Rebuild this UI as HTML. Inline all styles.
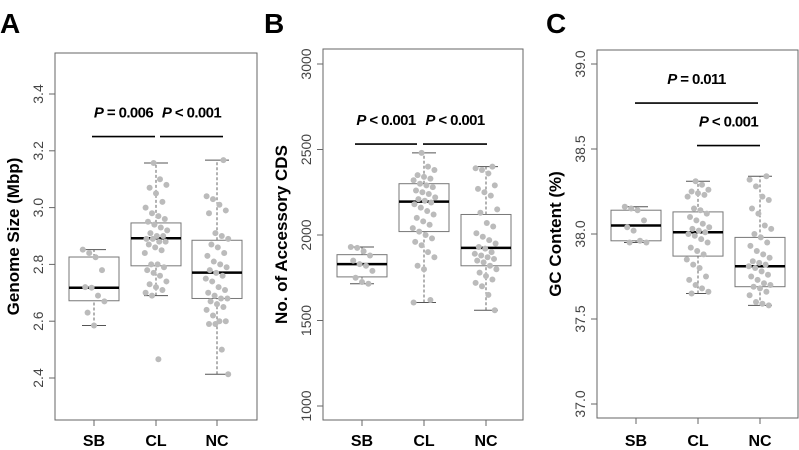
<!DOCTYPE html>
<html><head><meta charset="utf-8">
<style>
html,body{margin:0;padding:0;background:#fff;}
svg{display:block;font-family:"Liberation Sans",Arial,sans-serif;}
</style></head>
<body>
<svg id="chart" width="799" height="450" viewBox="0 0 799 450"></svg>
<script>
const categories = ["SB","CL","NC"];
// Panel A: Genome size (Mbp)
const aTicks = [2.4,2.6,2.8,3.0,3.2,3.4];
const aStats = [[2.585,2.672,2.718,2.826,2.852],[2.69,2.795,2.892,2.946,3.157],[2.413,2.68,2.771,2.885,3.167]];
const aSB = [2.852,2.84,2.825,2.78,2.72,2.718,2.69,2.67,2.63,2.585];
const aCL = [3.157,3.1,3.08,3.07,3.05,3.02,3.0,2.98,2.97,2.96,2.95,2.94,2.93,2.92,2.91,2.9,2.9,2.89,2.89,2.88,2.88,2.87,2.86,2.85,2.84,2.8,2.8,2.79,2.78,2.77,2.76,2.74,2.73,2.72,2.71,2.7,2.69,2.466];
const aNC = [3.167,3.04,3.03,3.01,2.99,2.98,2.91,2.9,2.89,2.87,2.86,2.84,2.83,2.81,2.8,2.79,2.78,2.77,2.76,2.75,2.74,2.72,2.71,2.7,2.69,2.68,2.68,2.67,2.66,2.65,2.64,2.62,2.6,2.6,2.59,2.59,2.5,2.413];
// Panel B: No. of accessory CDS
const bTicks = [1000,1500,2000,2500,3000];
const bStats = [[1715,1755,1830,1885,1930],[1605,2020,2195,2300,2480],[1560,1820,1925,2120,2400]];
const bSB = [1930,1925,1905,1880,1850,1830,1820,1790,1750,1725,1715];
const bCL = [2480,2400,2380,2350,2340,2330,2320,2300,2290,2280,2260,2250,2240,2220,2210,2200,2190,2180,2160,2140,2120,2100,2080,2060,2040,2020,2000,1980,1960,1940,1900,1870,1820,1800,1620,1605];
const bNC = [2400,2390,2380,2360,2290,2270,2250,2230,2150,2130,2070,2050,2010,1990,1970,1950,1930,1920,1900,1890,1880,1870,1860,1850,1840,1820,1800,1780,1760,1740,1720,1700,1650,1560];
// Panel C: GC content (%)
const cTicks = [37.0,37.5,38.0,38.5,39.0];
const cStats = [[37.95,37.96,38.05,38.14,38.16],[37.65,37.87,38.01,38.13,38.31],[37.58,37.69,37.81,37.98,38.34]];
const cSB = [38.16,38.15,38.14,38.08,38.04,38.02,37.96,37.95,37.95];
const cCL = [38.31,38.29,38.26,38.25,38.24,38.23,38.22,38.15,38.14,38.12,38.1,38.08,38.06,38.04,38.03,38.02,38.01,38.0,37.99,37.97,37.95,37.92,37.9,37.88,37.85,37.82,37.8,37.75,37.73,37.7,37.68,37.66,37.65];
const cNC = [38.34,38.32,38.28,38.22,38.2,38.15,38.12,38.05,38.03,38.0,37.98,37.95,37.93,37.9,37.88,37.86,37.84,37.83,37.82,37.81,37.8,37.78,37.76,37.75,37.73,37.71,37.7,37.69,37.68,37.66,37.64,37.6,37.59,37.58];

const NS="http://www.w3.org/2000/svg";
const svg=document.getElementById('chart');
function mk(tag,attrs,parent){const e=document.createElementNS(NS,tag);for(const k in attrs)e.setAttribute(k,attrs[k]);(parent||svg).appendChild(e);return e;}

function panel(p){
  const g=mk('g',{});
  
  
  const y=v=>p.y0+(v-p.v0)*(p.y1-p.y0)/(p.v1-p.v0);
  const x=i=>p.xc[i];
  const L=mk('text',{x:p.lx,y:33,'font-size':28,'font-weight':'bold',fill:'#000'},g);L.textContent=p.letter;
  
  
  const fr=mk('rect',{x:p.bx0,y:p.by0,width:p.bx1-p.bx0,height:p.by1-p.by0,fill:'none',stroke:'#666','stroke-width':1},g);
  
  
  p.ticks.forEach(t=>{
    const ty=y(t);
    mk('line',{x1:p.bx0-6,x2:p.bx0,y1:ty,y2:ty,stroke:'#666'},g);
    const tx=mk('text',{x:p.bx0-12,y:ty,'font-size':14,fill:'#444','text-anchor':'middle',transform:`rotate(-90 ${p.bx0-12} ${ty})`},g);
    tx.textContent=p.fmt(t);
    
    
  });
  const yt=mk('text',{x:0,y:0,'font-size':17,'font-weight':'bold',fill:'#000','text-anchor':'middle',transform:`translate(${p.bx0-36} ${(p.by0+p.by1)/2}) rotate(-90)`},g);
  yt.textContent=p.title;
  
  
  categories.forEach((c,i)=>{
    mk('line',{x1:x(i),x2:x(i),y1:p.by1,y2:p.by1+6,stroke:'#666'},g);
    const ct=mk('text',{x:x(i),y:446,'font-size':16,'font-weight':'bold',fill:'#000','text-anchor':'middle'},g);
    ct.textContent=c;
    
    
    const s=p.stats[i],hw=25;
    const bg=mk('g',{},g);
    
    
    mk('line',{x1:x(i),x2:x(i),y1:y(s[0]),y2:y(s[1]),stroke:'#666','stroke-dasharray':'3,2'},bg);
    mk('line',{x1:x(i),x2:x(i),y1:y(s[3]),y2:y(s[4]),stroke:'#666','stroke-dasharray':'3,2'},bg);
    mk('line',{x1:x(i)-12,x2:x(i)+12,y1:y(s[0]),y2:y(s[0]),stroke:'#555'},bg);
    mk('line',{x1:x(i)-12,x2:x(i)+12,y1:y(s[4]),y2:y(s[4]),stroke:'#555'},bg);
    mk('rect',{x:x(i)-hw,y:y(s[3]),width:2*hw,height:y(s[1])-y(s[3]),fill:'#fff',stroke:'#777'},bg);
    mk('line',{x1:x(i)-hw,x2:x(i)+hw,y1:y(s[2]),y2:y(s[2]),stroke:'#000','stroke-width':2.5},bg);
    p.pts[i].forEach((v,j)=>{
      const jit=((j*37+i*11)%29)-14;
      const d=mk('circle',{cx:x(i)+jit*0.8,cy:y(v),r:3,fill:'#bbb'},bg);
      
      
    });
  });
  p.sig.forEach(s=>{
    const ly=y(s.v);
    const ln=mk('line',{x1:s.xa,x2:s.xb,y1:ly,y2:ly,stroke:'#000','stroke-width':1.6},g);
    
    
    const t=mk('text',{x:(s.xa+s.xb)/2,y:ly-19,'font-size':15,'font-weight':'bold','letter-spacing':'-0.6',fill:'#000','text-anchor':'middle'},g);
    t.innerHTML='<tspan font-style="italic">P</tspan> '+s.t;
    
    
  });
}
panel({letter:'A',lx:0,bx0:55,bx1:257,by0:53,by1:420,v0:2.4,v1:3.4,y0:378,y1:94,xc:[94,156,217],ticks:aTicks,fmt:t=>t.toFixed(1),
  title:'Genome Size (Mbp)',stats:aStats,pts:[aSB,aCL,aNC],sig:[{v:3.25,xa:92,xb:155,t:'= 0.006'},{v:3.25,xa:160,xb:223,t:'< 0.001'}]});
panel({letter:'B',lx:264,bx0:323,bx1:523,by0:49,by1:420,v0:1000,v1:3000,y0:406,y1:64,xc:[362,424,486],ticks:bTicks,fmt:t=>String(t),
  title:'No. of Accessory CDS',stats:bStats,pts:[bSB,bCL,bNC],sig:[{v:2532,xa:355,xb:417,t:'< 0.001'},{v:2532,xa:423,xb:487,t:'< 0.001'}]});
panel({letter:'C',lx:546,bx0:597,bx1:798,by0:50,by1:418,v0:37,v1:39,y0:404,y1:64,xc:[636,698,760],ticks:cTicks,fmt:t=>t.toFixed(1),
  title:'GC Content (%)',stats:cStats,pts:[cSB,cCL,cNC],sig:[{v:38.77,xa:635,xb:758,t:'= 0.011'},{v:38.52,xa:697,xb:760,t:'< 0.001'}]});
</script>
</body></html>
